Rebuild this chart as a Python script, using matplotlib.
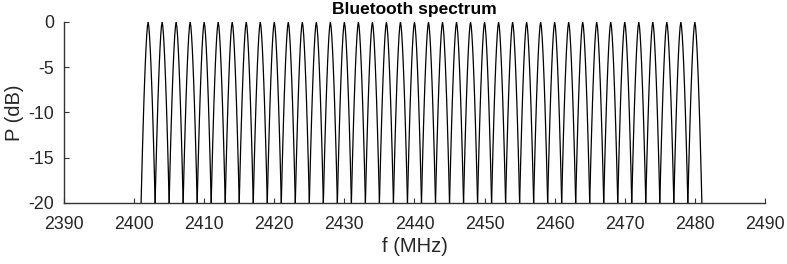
import matplotlib
matplotlib.use("Agg")
from matplotlib import pyplot as plt
import numpy as np

# Channel centre frequencies (MHz)
channels = [2402, 2404, 2406, 2408, 2410, 2412, 2414, 2416, 2418, 2420,
            2422, 2424, 2426, 2428, 2430, 2432, 2434, 2436, 2438, 2440,
            2442, 2444, 2446, 2448, 2450, 2452, 2454, 2456, 2458, 2460,
            2462, 2464, 2466, 2468, 2470, 2472, 2474, 2476, 2478, 2480]

# Shape of one channel lobe: offset from centre (MHz) and level (dB)
lobe_offset = [-1.0, -0.9, -0.8, -0.7, -0.6, -0.5, -0.4, -0.3, -0.2, -0.1, 0.0,
               0.1, 0.2, 0.3, 0.4, 0.5, 0.6, 0.7, 0.8, 0.9, 1.0]
lobe_level = [-20.0, -16.9, -14.0, -11.3, -8.8, -6.6, -4.6, -2.9, -1.5, -0.5, 0.0,
              -0.5, -1.5, -2.9, -4.6, -6.6, -8.8, -11.3, -14.0, -16.9, -20.0]

x_ticks = [2390, 2400, 2410, 2420, 2430, 2440, 2450, 2460, 2470, 2480, 2490]
y_ticks = [-20, -15, -10, -5, 0]

plt.rcParams['font.family'] = ['Liberation Sans', 'DejaVu Sans']
plt.rcParams['axes.unicode_minus'] = False

fig = plt.figure(figsize=(7.87, 2.64), dpi=100)
ax = fig.add_axes([0.0813, 0.2311, 0.8907, 0.6856])

offs = np.array(lobe_offset)
for fc in channels:
  ax.plot(fc + offs, lobe_level, color="black", linewidth=0.9)

ax.set_xlim(2390, 2490)
ax.set_ylim(-20, 0)
ax.set_xticks(x_ticks)
ax.set_yticks(y_ticks)

axis_col = "0.2"
for side in ["top", "right"]:
  ax.spines[side].set_visible(False)
for side in ["left", "bottom"]:
  ax.spines[side].set_color(axis_col)
  ax.spines[side].set_linewidth(1.0)

ax.tick_params(direction="in", length=3.5, width=0.8, color=axis_col,
               labelsize=12.8, labelcolor="0.15")
ax.tick_params(axis="x", pad=9.5)
ax.tick_params(axis="y", pad=7)

ax.set_xlabel("f (MHz)", fontsize=14.5, color="0.15", labelpad=3)
ax.set_ylabel("P (dB)", fontsize=14.5, color="0.15", labelpad=3)
ax.set_title("Bluetooth spectrum", fontsize=12.5, fontweight="bold", pad=6)

fig.savefig("out.png", dpi=100)
